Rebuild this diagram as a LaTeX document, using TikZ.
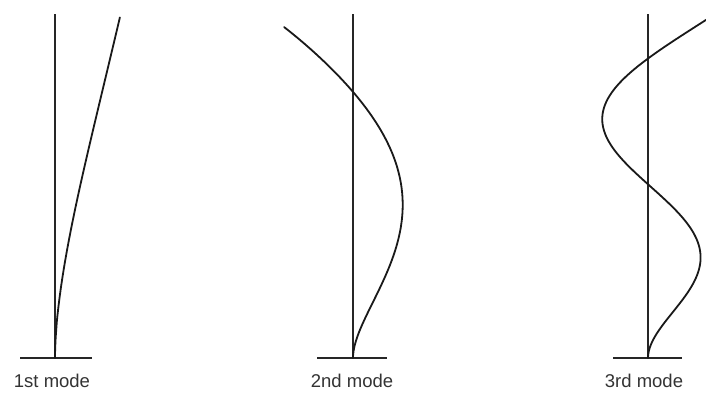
\documentclass[tikz,border=0pt]{standalone}
\usepackage{fontspec}
\setmainfont{Liberation Sans}
\begin{document}
\begin{tikzpicture}[x=1pt,y=-1pt,
  declare function={ph(\t,\b,\s)=0.5*(1-\s)*exp(\b*\t)+0.5*(1+\s)*exp(-\b*\t)-cos(deg(\b*\t))+\s*sin(deg(\b*\t));
                    wg(\t)=0.7385*\t+0.750*\t*\t-0.4885*\t*\t*\t;},
  axisline/.style={line width=1.1pt,draw=black!85},
  baseline/.style={line width=1.1pt,draw=black!85},
  modecurve/.style={line width=1.8pt,draw=black!90,line join=round,line cap=round},
  label/.style={font=\fontsize{18.5}{20}\selectfont,text=black!80,inner sep=0pt,anchor=base}]
\useasboundingbox (0,0) rectangle (706,394);
\clip (0,0) rectangle (706,394);
% mode 1
\coordinate (b1) at (55,358);
\coordinate (t1) at (55,14);
\coordinate (l1) at (20,358);
\coordinate (r1) at (92,358);
\draw[axisline] (b1) -- (t1);
\draw[baseline] (l1) -- (r1);
\draw[modecurve] (b1) -- plot[domain=0.002:1,samples=90,variable=\t] ({55+32.5*ph(\t,1.87510,0.734096)},{358-341*pow(\t,1.11)});
\node[label] (m1) at (52,387) {1st mode};
% mode 2
\coordinate (b2) at (353,358);
\coordinate (t2) at (353,14);
\coordinate (l2) at (317,358);
\coordinate (r2) at (387,358);
\draw[axisline] (b2) -- (t2);
\draw[baseline] (l2) -- (r2);
\draw[modecurve] plot[domain=0:1,samples=110,variable=\t] ({353+34.5*ph(\t,4.69409,1.018467)},{358-331*wg(\t)});
\node[label] (m2) at (352,387) {2nd mode};
% mode 3
\coordinate (b3) at (648,358);
\coordinate (t3) at (648,14);
\coordinate (l3) at (613,358);
\coordinate (r3) at (682,358);
\draw[axisline] (b3) -- (t3);
\draw[baseline] (l3) -- (r3);
\draw[modecurve] plot[domain=0:1,samples=130,variable=\t] ({648+34.7*ph(\t,7.85476,0.999224)},{358-345*\t});
\node[label] (m3) at (644,387) {3rd mode};
\end{tikzpicture}
\end{document}
